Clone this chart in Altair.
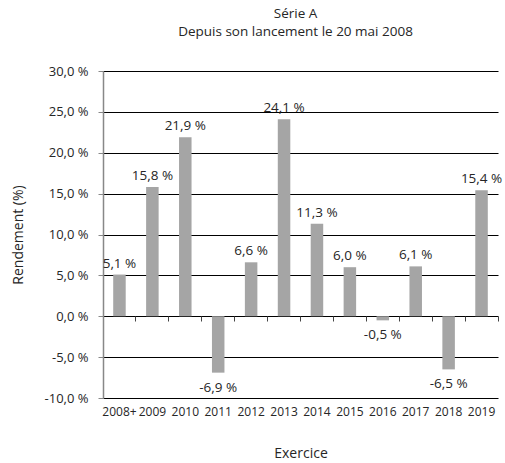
import altair as alt
import pandas as pd

years = ["2008+", "2009", "2010", "2011", "2012", "2013", "2014", "2015", "2016", "2017", "2018", "2019"]
returns = [5.1, 15.8, 21.9, -6.9, 6.6, 24.1, 11.3, 6.0, -0.5, 6.1, -6.5, 15.4]
y_ticks = [-10, -5, 0, 5, 10, 15, 20, 25, 30]

df = pd.DataFrame({"year": years, "ret": returns})
df["lab"] = [f"{v:.1f}".replace(".", ",") + " %" for v in returns]

FONT = "Open Sans"
TXT = "#262626"
xscale = alt.Scale(domain=years, paddingInner=0, paddingOuter=0)
yscale = alt.Scale(domain=[-10, 30], nice=False)

base = alt.Chart(df)

bars = base.mark_bar(color="#a5a5a5", width=alt.RelativeBandSize(0.38)).encode(
    x=alt.X("year:N", scale=xscale, sort=years,
            axis=alt.Axis(title="Exercice", labelAngle=0, domain=False, ticks=False,
                          labelPadding=8, titlePadding=29, labelFontSize=12,
                          titleFontSize=14, labelColor=TXT, titleColor=TXT,
                          labelFont=FONT, titleFont=FONT, titleFontWeight="normal",
                          labelOverlap=False, grid=False)),
    y=alt.Y("ret:Q", scale=yscale,
            axis=alt.Axis(title="Rendement (%)", values=y_ticks,
                          labelExpr="replace(replace(format(datum.value, '.1f'), '.', ','), '\u2212', '-') + ' %'",
                          grid=True, gridColor="#000000", gridWidth=1.2, gridOpacity=1,
                          domainColor="#888888", domainWidth=1.5,
                          tickColor="#888888", tickSize=5, labelPadding=10,
                          labelFontSize=13, titleFontSize=14, titlePadding=19,
                          labelColor=TXT, titleColor=TXT,
                          labelFont=FONT, titleFont=FONT, titleFontWeight="normal")),
)

tick_axis = base.mark_bar(opacity=0).encode(
    x=alt.X("year:N", scale=xscale, sort=years,
            axis=alt.Axis(title=None, labels=False, domain=False, ticks=True,
                          bandPosition=1, tickExtra=True, tickSize=5, tickColor="#444444",
                          offset=-82, orient="bottom", grid=False)),
    y=alt.Y("ret:Q", scale=yscale),
)

pos_text = base.transform_filter("datum.ret >= 0").mark_text(
    baseline="middle", dy=-11, fontSize=13.5, font=FONT, color=TXT
).encode(x=alt.X("year:N", scale=xscale, sort=years, axis=None),
         y=alt.Y("ret:Q", scale=yscale), text="lab:N")

neg_text = base.transform_filter("datum.ret < 0").mark_text(
    baseline="middle", dy=15, fontSize=13.5, font=FONT, color=TXT
).encode(x=alt.X("year:N", scale=xscale, sort=years, axis=None),
         y=alt.Y("ret:Q", scale=yscale), text="lab:N")

chart = alt.layer(bars, tick_axis, pos_text, neg_text).resolve_axis(x="independent").properties(
    width=395, height=327,
    autosize=alt.AutoSizeParams(type="none"),
    padding={"left": 103, "top": 71, "right": 7, "bottom": 65},
    title=alt.TitleParams(text=["Série A", "Depuis son lancement le 20 mai 2008"],
                          anchor="middle", frame="group", fontSize=13.5, font=FONT,
                          fontWeight="normal", color=TXT, lineHeight=18,
                          offset=27, dx=-5),
).configure_view(stroke=None)

chart.save("out.html", embed_options={"renderer": "svg", "actions": False})
